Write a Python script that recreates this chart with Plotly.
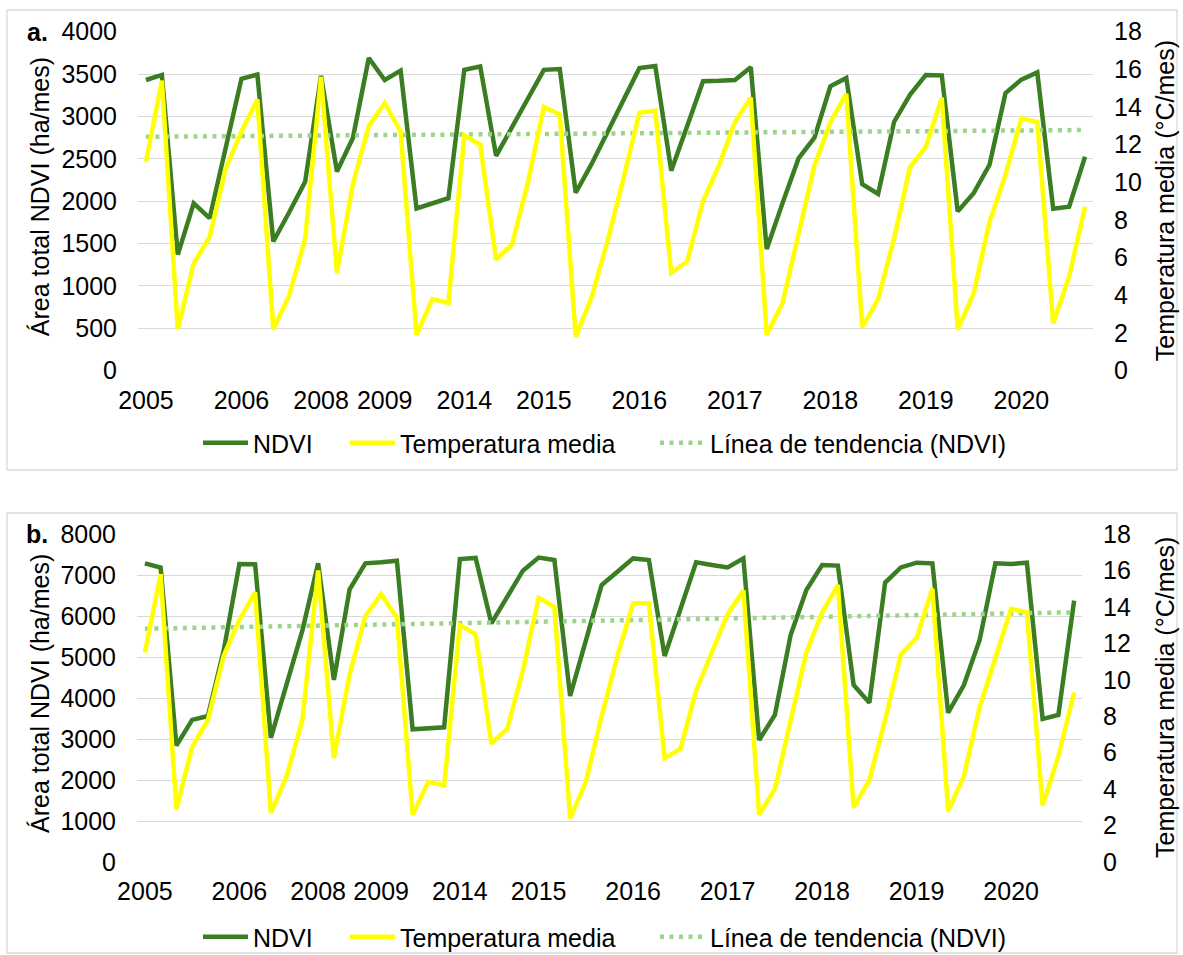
import plotly.graph_objects as go

# ---------------- data ----------------
categories = [
    "2005", "", "", "", "", "", "2006", "", "", "",
    "", "2008", "", "", "", "2009", "", "", "", "",
    "2014", "", "", "", "", "2015", "", "", "", "",
    "", "2016", "", "", "", "", "", "2017", "", "",
    "", "", "", "2018", "", "", "", "", "", "2019",
    "", "", "", "", "", "2020", "", "", "", "",
]

ndvi_a = [3430, 3490, 1370, 1975, 1800, 2600, 3445, 3495, 1525, 1870,
          2230, 3480, 2350, 2745, 3690, 3430, 3540, 1915, 1975, 2035,
          3550, 3590, 2535, 2870, 3210, 3550, 3560, 2100, 2440, 2820,
          3200, 3570, 3595, 2360, 2885, 3415, 3420, 3430, 3580, 1435,
          1980, 2505, 2750, 3355, 3455, 2200, 2085, 2935, 3255, 3490,
          3485, 1880, 2095, 2430, 3275, 3435, 3520, 1910, 1935, 2525]

temp_a = [11.1, 15.4, 2.2, 5.7, 7.1, 10.7, 12.7, 14.4, 2.2, 4.0,
          7.0, 15.6, 5.2, 9.9, 13.0, 14.2, 12.7, 1.9, 3.8, 3.6,
          12.5, 12.0, 5.9, 6.7, 10.0, 14.0, 13.6, 1.8, 3.9, 6.9,
          10.2, 13.7, 13.8, 5.2, 5.8, 9.0, 10.9, 13.2, 14.5, 1.9,
          3.6, 7.3, 10.9, 13.2, 14.7, 2.3, 3.8, 7.0, 10.8, 11.9,
          14.5, 2.2, 4.1, 7.9, 10.4, 13.4, 13.2, 2.5, 5.0, 8.7]

ndvi_b = [7285, 7180, 2840, 3465, 3560, 5150, 7270, 7260, 3030, 4350,
          5650, 7285, 4440, 6650, 7285, 7310, 7350, 3235, 3260, 3285,
          7390, 7415, 5820, 6455, 7105, 7425, 7365, 4050, 5390, 6755,
          7080, 7405, 7365, 5025, 6165, 7310, 7245, 7185, 7405, 2975,
          3585, 5535, 6635, 7245, 7230, 4315, 3885, 6815, 7185, 7300,
          7285, 3640, 4315, 5415, 7285, 7270, 7300, 3490, 3585, 6375]

temp_b = [11.5, 15.8, 2.9, 6.3, 7.8, 11.3, 13.3, 14.8, 2.7, 4.7,
          7.8, 16.0, 5.7, 10.3, 13.5, 14.7, 13.4, 2.6, 4.4, 4.2,
          13.0, 12.5, 6.5, 7.3, 10.5, 14.5, 14.0, 2.4, 4.4, 8.0,
          11.3, 14.2, 14.2, 5.7, 6.2, 9.4, 11.5, 13.6, 14.9, 2.6,
          4.0, 7.7, 11.5, 13.7, 15.2, 3.0, 4.5, 7.8, 11.4, 12.3,
          15.0, 2.8, 4.7, 8.5, 11.3, 13.9, 13.7, 3.1, 5.8, 9.3]

# trend line (NDVI) end values
trend_a = [2760, 2840]
trend_b = [5690, 6090]

series_names = ["NDVI", "Temperatura media", "Línea de tendencia (NDVI)"]

# ---------------- styling ----------------
W, H = 1183, 955
FONT = "Liberation Sans, Arial, sans-serif"
FS = 25
GREEN = "#3A7D22"
YELLOW = "#FFFF00"
TREND = "#9DD48C"
GRID = "#D9D9D9"
BLACK = "#000000"


def px_x(v):
    return v / W


def px_y(v):
    return 1 - v / H


x = list(range(len(categories)))
tickvals = [i for i, c in enumerate(categories) if c]
ticktext = [c for c in categories if c]
trend_x = [x[0], x[-1]]

fig = go.Figure()

panels = [
    dict(nd=ndvi_a, tp=temp_a, tr=trend_a, xa="x", ya="y", ya2="y2",
         legends=["legend", "legend2", "legend3"]),
    dict(nd=ndvi_b, tp=temp_b, tr=trend_b, xa="x2", ya="y3", ya2="y4",
         legends=["legend4", "legend5", "legend6"]),
]

for p in panels:
    fig.add_trace(go.Scatter(x=x, y=p["nd"], mode="lines", name=series_names[0],
                             line=dict(color=GREEN, width=4.5),
                             xaxis=p["xa"], yaxis=p["ya"], legend=p["legends"][0]))
    fig.add_trace(go.Scatter(x=x, y=p["tp"], mode="lines", name=series_names[1],
                             line=dict(color=YELLOW, width=4.5),
                             xaxis=p["xa"], yaxis=p["ya2"], legend=p["legends"][1]))
    fig.add_trace(go.Scatter(x=trend_x, y=p["tr"], mode="lines", name=series_names[2],
                             line=dict(color=TREND, width=4.5, dash="4px,5.5px"),
                             xaxis=p["xa"], yaxis=p["ya"], legend=p["legends"][2]))

xcommon = dict(range=[-0.5, len(x) - 0.5], tickmode="array", tickvals=tickvals,
               ticktext=ticktext, showgrid=False, zeroline=False, showline=False,
               ticks="", ticklabelstandoff=12, automargin=False,
               tickfont=dict(family=FONT, size=FS, color=BLACK))
yleft = dict(showgrid=True, gridcolor=GRID, gridwidth=1.3, zeroline=False, showline=False,
             ticks="", ticklabelstandoff=20, automargin=False,
             tickfont=dict(family=FONT, size=FS, color=BLACK))
yright = dict(range=[0, 18], dtick=2, showgrid=False, zeroline=False, showline=False,
              ticks="", ticklabelstandoff=20, side="right", automargin=False,
              tickfont=dict(family=FONT, size=FS, color=BLACK))

a_top, a_bot, a_l, a_r = 31.7, 370.7, 138, 1093
b_top, b_bot, b_l, b_r = 534, 862, 137, 1082

layout = dict(
    width=W, height=H,
    margin=dict(l=0, r=0, t=0, b=0, autoexpand=False),
    paper_bgcolor="white", plot_bgcolor="white",
    font=dict(family=FONT, size=FS, color=BLACK),
    xaxis=dict(domain=[px_x(a_l), px_x(a_r)], anchor="y", **xcommon),
    yaxis=dict(domain=[px_y(a_bot), px_y(a_top)], anchor="x", range=[0, 4000], dtick=500, **yleft),
    yaxis2=dict(domain=[px_y(a_bot), px_y(a_top)], anchor="x", overlaying="y", **yright),
    xaxis2=dict(domain=[px_x(b_l), px_x(b_r)], anchor="y3", **xcommon),
    yaxis3=dict(domain=[px_y(b_bot), px_y(b_top)], anchor="x2", range=[0, 8000], dtick=1000, **yleft),
    yaxis4=dict(domain=[px_y(b_bot), px_y(b_top)], anchor="x2", overlaying="y3", **yright),
    showlegend=True,
)

# one legend box per entry so the spacing follows the original layout
legend_left = [198, 345, 655]
legend_rows = [443, 937]
k = 0
for row_y in legend_rows:
    for lx in legend_left:
        name = "legend" if k == 0 else "legend%d" % (k + 1)
        layout[name] = dict(orientation="h", x=px_x(lx), xanchor="left", y=px_y(row_y),
                            yanchor="middle", font=dict(family=FONT, size=FS, color=BLACK),
                            bgcolor="rgba(0,0,0,0)", itemwidth=45, borderwidth=0)
        k += 1

fig.update_layout(**layout)

# panel borders
for (y0, y1) in [(10, 470), (513, 953)]:
    fig.add_shape(type="rect", xref="paper", yref="paper",
                  x0=px_x(7), x1=px_x(1177), y0=px_y(y1), y1=px_y(y0),
                  line=dict(color=GRID, width=1.3), fillcolor="rgba(0,0,0,0)", layer="below")

# panel letters and axis titles
for letter, top, bot in [("a.", a_top, a_bot), ("b.", b_top, b_bot)]:
    fig.add_annotation(text="<b>" + letter + "</b>", xref="paper", yref="paper",
                       x=px_x(37), y=px_y(top), xanchor="center", yanchor="middle",
                       showarrow=False, font=dict(family=FONT, size=FS, color=BLACK))
    mid = (top + bot) / 2
    fig.add_annotation(text="Área total NDVI (ha/mes)", xref="paper", yref="paper",
                       x=px_x(40), y=px_y(mid - 4), xanchor="center", yanchor="middle",
                       textangle=-90, showarrow=False,
                       font=dict(family=FONT, size=FS, color=BLACK))
    fig.add_annotation(text="Temperatura media (°C/mes)", xref="paper", yref="paper",
                       x=px_x(1165), y=px_y(mid), xanchor="center", yanchor="middle",
                       textangle=-90, showarrow=False,
                       font=dict(family=FONT, size=FS, color=BLACK))

fig.write_html("out.html", config={"displayModeBar": False},
               post_script="document.body.style.margin='0';")
